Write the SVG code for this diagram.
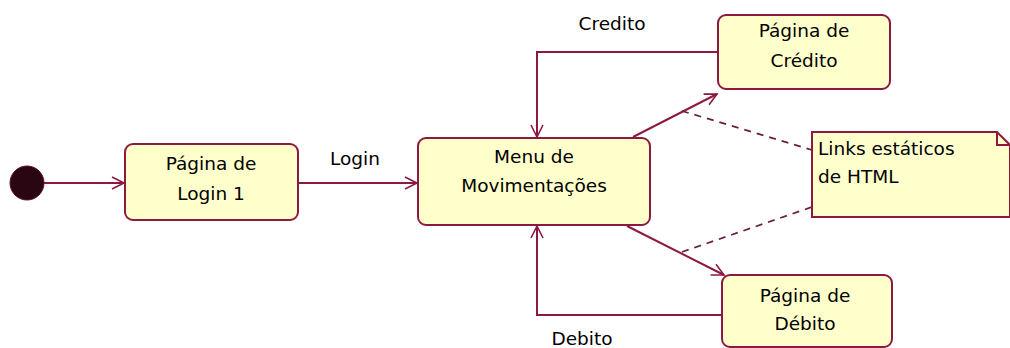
<svg xmlns="http://www.w3.org/2000/svg" width="1010" height="348" viewBox="0 0 1010 348">
<style>
.node{fill:#ffffcc;stroke:#8c1a40;stroke-width:2}
.t{font-family:"DejaVu Sans",sans-serif;font-size:18.5px;fill:#000;text-anchor:middle}
.tl{font-family:"DejaVu Sans",sans-serif;font-size:18.5px;fill:#000}
.c{fill:none;stroke:#8c1a40;stroke-width:2}
.d{fill:none;stroke:#6a2040;stroke-width:1.8;stroke-dasharray:7 6}
</style>
<defs>
<marker id="arr" markerWidth="16" markerHeight="16" refX="14" refY="8" orient="auto" markerUnits="userSpaceOnUse">
<path d="M2,2 L14,8 L2,14" fill="none" stroke="#8c1a40" stroke-width="1.6"/>
</marker>
</defs>
<g id="connectors">
<line class="c" x1="44" y1="183" x2="124" y2="183" marker-end="url(#arr)"/>
<line class="c" x1="298" y1="183" x2="417" y2="183" marker-end="url(#arr)"/>
<polyline class="c" points="718,52 537,52 537,137" marker-end="url(#arr)"/>
<polyline class="c" points="722,315 537,315 537,226" marker-end="url(#arr)"/>
<line class="c" x1="633" y1="137" x2="717" y2="94" marker-end="url(#arr)"/>
<line class="c" x1="627" y1="226" x2="724" y2="275" marker-end="url(#arr)"/>
<line class="d" x1="682" y1="111" x2="812" y2="150"/>
<line class="d" x1="682" y1="252" x2="812" y2="207"/>
<text class="t" x="355" y="165">Login</text>
<text class="t" x="612" y="30">Credito</text>
<text class="t" x="582" y="345">Debito</text>
</g>
<g id="initial">
<circle cx="27" cy="183" r="17" fill="#2a0612" stroke="#5a1028" stroke-width="1"/>
</g>
<g id="login">
<rect class="node" x="125" y="144" width="173" height="76" rx="8"/>
<text class="t" x="211" y="170">Página de</text>
<text class="t" x="211" y="200">Login 1</text>
</g>
<g id="menu">
<rect class="node" x="418" y="138" width="232" height="87" rx="8"/>
<text class="t" x="534" y="163">Menu de</text>
<text class="t" x="534" y="192">Movimentações</text>
</g>
<g id="credito">
<rect class="node" x="718" y="15" width="172" height="74" rx="8"/>
<text class="t" x="804" y="37">Página de</text>
<text class="t" x="804" y="67">Crédito</text>
</g>
<g id="debito">
<rect class="node" x="722" y="275" width="170" height="72" rx="8"/>
<text class="t" x="805" y="302">Página de</text>
<text class="t" x="805" y="330">Débito</text>
</g>
<g id="note">
<path class="node" d="M812,132 H997 L1010,145 V217 H812 Z"/>
<path d="M997,132 V145 H1010" fill="none" stroke="#8c1a40" stroke-width="2"/>
<text class="tl" x="818" y="155">Links estáticos</text>
<text class="tl" x="818" y="183">de HTML</text>
</g>
</svg>
